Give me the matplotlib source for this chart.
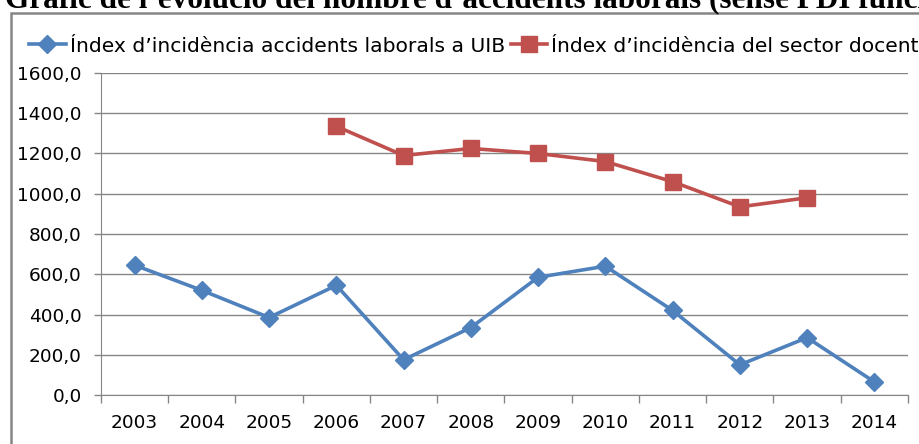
import matplotlib
matplotlib.use('Agg')
from matplotlib import pyplot as plt
from matplotlib.patches import Rectangle
from matplotlib.ticker import FuncFormatter
import numpy as np

years = ['2003', '2004', '2005', '2006', '2007', '2008',
         '2009', '2010', '2011', '2012', '2013', '2014']
uib_index = [645, 520, 385, 545, 175, 335, 585, 640, 420, 150, 285, 65]
sector_years = ['2006', '2007', '2008', '2009', '2010', '2011', '2012', '2013']
sector_index = [1335, 1190, 1225, 1200, 1160, 1060, 935, 980]

uib_label = 'Índex d’incidència accidents laborals a UIB'
sector_label = 'Índex d’incidència del sector docent'
title = 'Gràfic de l’evolució del nombre d’accidents laborals (sense PDI funcionari)'

plt.rcParams['font.family'] = ['DejaVu Sans']

fig = plt.figure(figsize=(9.2, 4.44), dpi=100)

# outer chart frame (excel style), runs off the right/bottom like the source
fig.patches.append(Rectangle((11 / 920, -0.1), 1.2, 1.1 - 13 / 444, transform=fig.transFigure,
                             fill=False, edgecolor='#868686', linewidth=1.8))
fig.text(5 / 920, 1 - 7 / 444, title, family='Liberation Serif', weight='bold',
         fontsize=22.5, va='baseline', ha='left')

ax = fig.add_axes([101 / 920, 1 - 395 / 444, 807 / 920, 322 / 444])

x = np.arange(len(years))
xs = np.array([years.index(y) for y in sector_years])

ax.plot(x, uib_index, color='#4F81BD', linewidth=2.6, marker='D', markersize=9,
        label=uib_label, zorder=3)
ax.plot(xs, sector_index, color='#C0504D', linewidth=2.6, marker='s', markersize=12,
        label=sector_label, zorder=3)

ax.set_xlim(-0.5, len(years) - 0.5)
ax.set_ylim(0, 1600)
ax.set_yticks(np.arange(0, 1601, 200))
ax.yaxis.set_major_formatter(FuncFormatter(lambda v, p: f'{v:.1f}'.replace('.', ',')))
ax.set_xticks(np.arange(-0.5, len(years), 1))
ax.set_xticklabels([])
ax.set_xticks(x, minor=True)
ax.set_xticklabels(years, minor=True)
ax.tick_params(axis='x', which='major', length=6, color='#868686', width=1)
ax.tick_params(axis='x', which='minor', length=0, pad=14, labelsize=13.3)
ax.tick_params(axis='y', length=5, color='#868686', width=1, pad=9, labelsize=13.3)
ax.grid(axis='y', color='#868686', linewidth=1)
for s in ['top', 'right']:
    ax.spines[s].set_visible(False)
for s in ['left', 'bottom']:
    ax.spines[s].set_color('#868686')
ax.set_axisbelow(True)

fig.legend(loc='center left', bbox_to_anchor=(29 / 920, 1 - 46 / 444), ncol=2, frameon=False,
           fontsize=14.6, handlelength=1.8, handletextpad=0.2, columnspacing=0.3,
           borderaxespad=0, borderpad=0)

fig.savefig('out.png', dpi=100)
